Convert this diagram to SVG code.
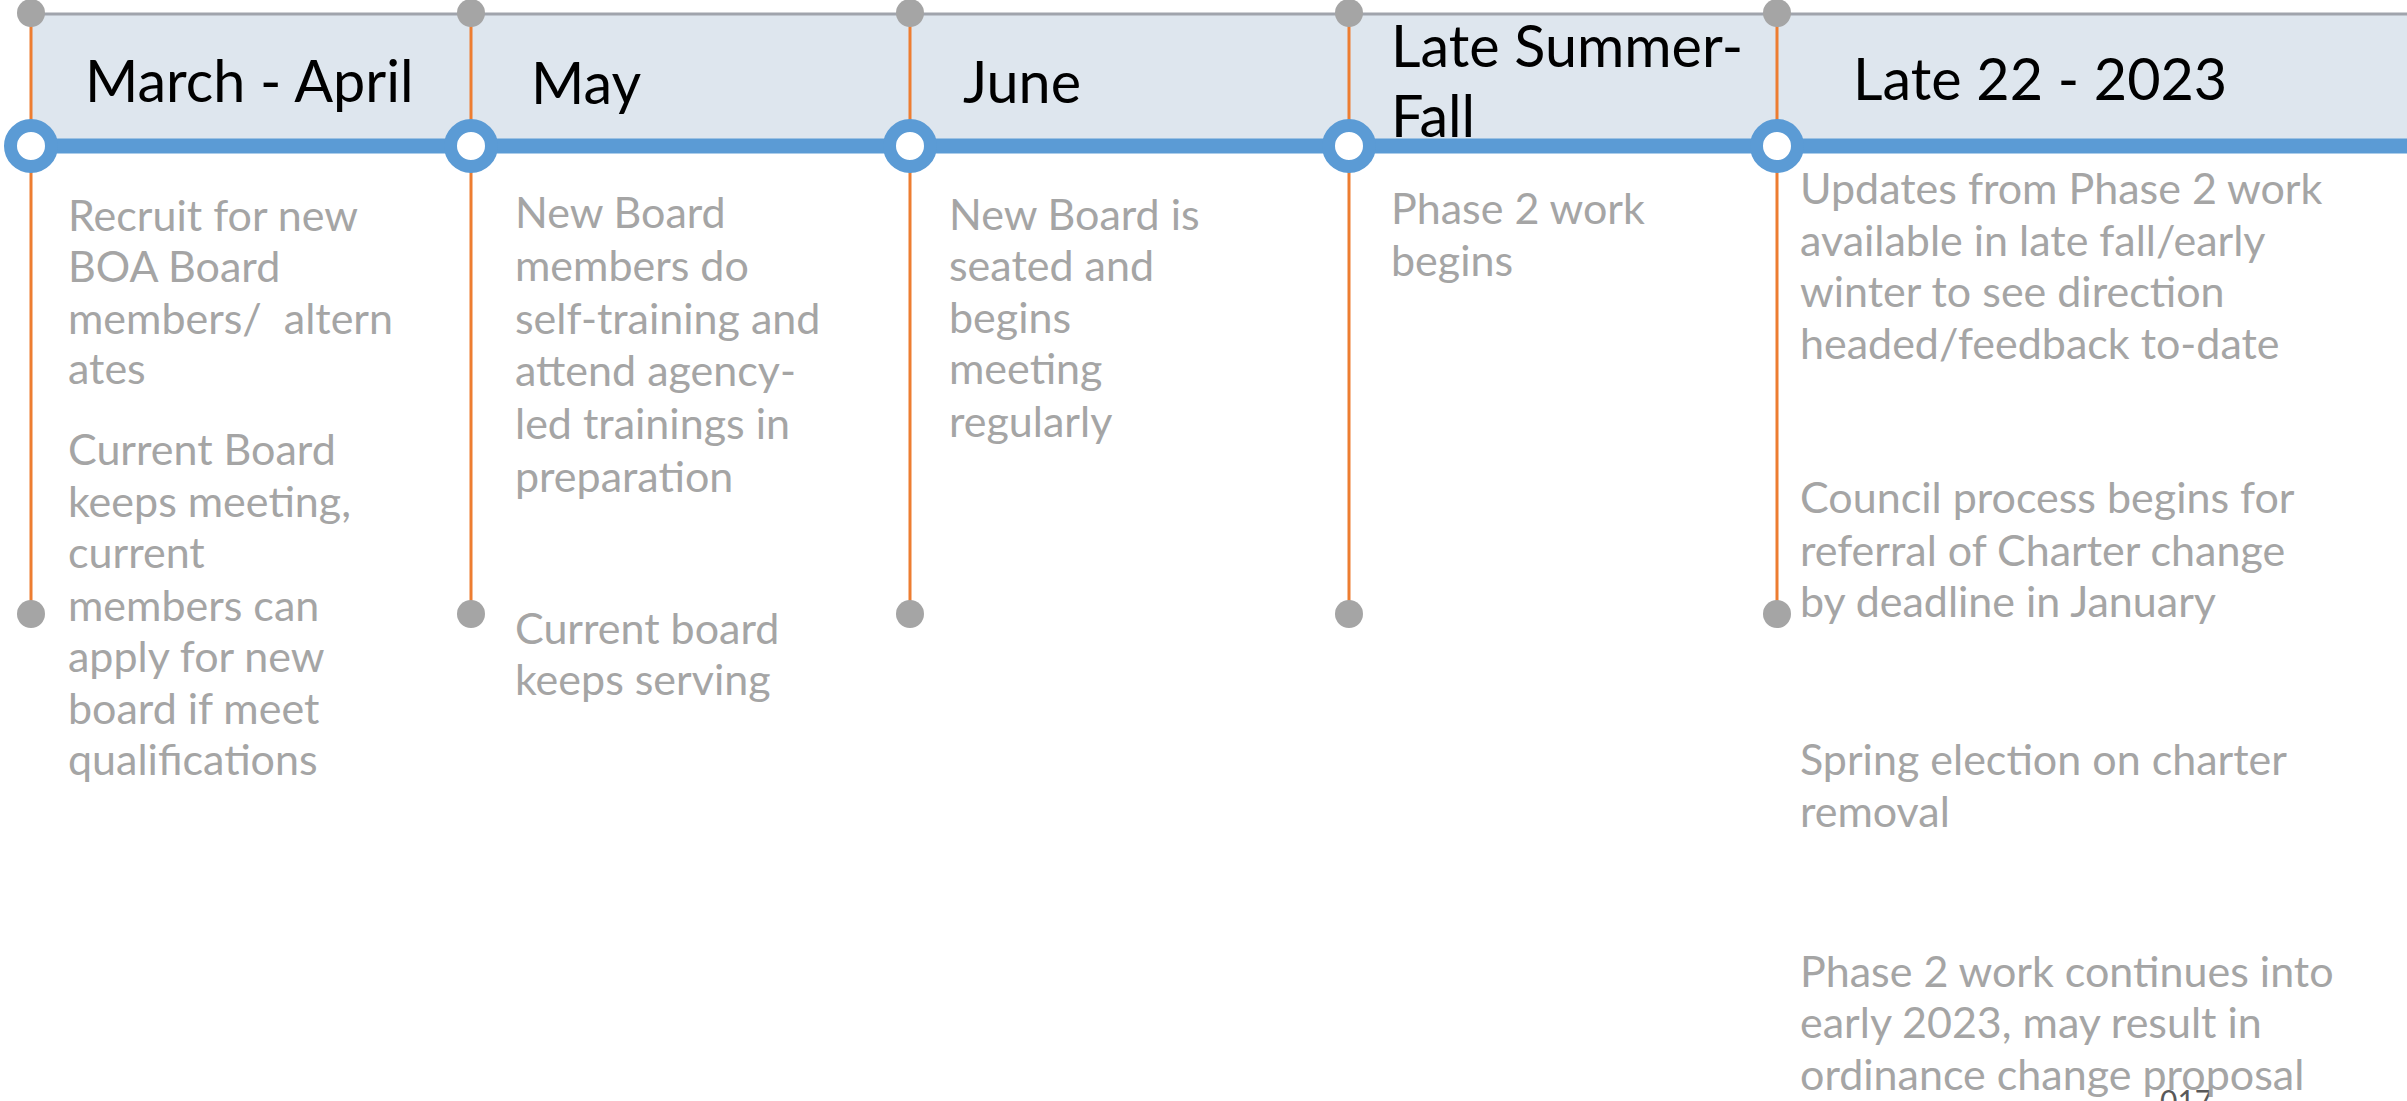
<svg xmlns="http://www.w3.org/2000/svg" width="2407" height="1101" viewBox="0 0 2407 1101">
<style>
.hdr{font-family:Lato,"Open Sans",sans-serif;font-size:57.5px;fill:#000}
.body{font-family:Lato,"Open Sans",sans-serif;font-size:43px;fill:#A5A5A5}
.pg{font-family:Lato,"Open Sans",sans-serif;font-size:30px;fill:#595959}
.vline{stroke:#ED7D31;stroke-width:3}
.dot{fill:#A5A5A5}
.ring{fill:#FFFFFF;stroke:#5B9BD5;stroke-width:13}
.pre{white-space:pre}
</style>
<rect width="2407" height="1101" fill="#FFFFFF"/>
<g id="timeline">
<rect x="31" y="14" width="2376" height="132" fill="#DEE6EE"/>
<line x1="31" y1="14" x2="2407" y2="14" stroke="#A0A4AC" stroke-width="3"/>
</g>
<g id="connectors">
<line class="vline" x1="31" y1="13" x2="31" y2="614"/>
<line class="vline" x1="471" y1="13" x2="471" y2="614"/>
<line class="vline" x1="910" y1="13" x2="910" y2="614"/>
<line class="vline" x1="1349" y1="13" x2="1349" y2="614"/>
<line class="vline" x1="1777" y1="13" x2="1777" y2="614"/>
<line x1="31" y1="146" x2="2407" y2="146" stroke="#5B9BD5" stroke-width="15"/>
</g>
<g id="node-march-april">
<circle class="dot" cx="31" cy="13" r="14"/>
<circle class="dot" cx="31" cy="614" r="14"/>
<circle class="ring" cx="31" cy="146" r="20.5"/>
<text class="hdr" x="85" y="102">March - April</text>
<text class="body" x="68"><tspan x="68" y="231">Recruit for new</tspan><tspan x="68" y="282">BOA Board</tspan><tspan class="pre" x="68" y="334" xml:space="preserve">members/  altern</tspan><tspan x="68" y="384">ates</tspan></text>
<text class="body" x="68"><tspan x="68" y="465">Current Board</tspan><tspan x="68" y="517">keeps meeting,</tspan><tspan x="68" y="568">current</tspan><tspan x="68" y="621">members can</tspan><tspan x="68" y="672">apply for new</tspan><tspan x="68" y="724">board if meet</tspan><tspan x="68" y="775">qualifications</tspan></text>
</g>
<g id="node-may">
<circle class="dot" cx="471" cy="13" r="14"/>
<circle class="dot" cx="471" cy="614" r="14"/>
<circle class="ring" cx="471" cy="146" r="20.5"/>
<text class="hdr" x="531" y="104">May</text>
<text class="body"><tspan x="515" y="228">New Board</tspan><tspan x="515" y="281">members do</tspan><tspan x="515" y="334">self-training and</tspan><tspan x="515" y="386">attend agency-</tspan><tspan x="515" y="439">led trainings in</tspan><tspan x="515" y="492">preparation</tspan></text>
<text class="body"><tspan x="515" y="644">Current board</tspan><tspan x="515" y="695">keeps serving</tspan></text>
</g>
<g id="node-june">
<circle class="dot" cx="910" cy="13" r="14"/>
<circle class="dot" cx="910" cy="614" r="14"/>
<circle class="ring" cx="910" cy="146" r="20.5"/>
<text class="hdr" x="963" y="103">June</text>
<text class="body"><tspan x="949" y="230">New Board is</tspan><tspan x="949" y="281">seated and</tspan><tspan x="949" y="333">begins</tspan><tspan x="949" y="384">meeting</tspan><tspan x="949" y="437">regularly</tspan></text>
</g>
<g id="node-late-summer-fall">
<circle class="dot" cx="1349" cy="13" r="14"/>
<circle class="dot" cx="1349" cy="614" r="14"/>
<circle class="ring" cx="1349" cy="146" r="20.5"/>
<text class="hdr"><tspan x="1391" y="67">Late Summer-</tspan><tspan x="1391" y="137">Fall</tspan></text>
<text class="body"><tspan x="1391" y="224">Phase 2 work</tspan><tspan x="1391" y="276">begins</tspan></text>
</g>
<g id="node-late22-2023">
<circle class="dot" cx="1777" cy="13" r="14"/>
<circle class="dot" cx="1777" cy="614" r="14"/>
<circle class="ring" cx="1777" cy="146" r="20.5"/>
<text class="hdr" x="1853" y="100">Late 22 - 2023</text>
<text class="body"><tspan x="1800" y="204">Updates from Phase 2 work</tspan><tspan x="1800" y="256">available in late fall/early</tspan><tspan x="1800" y="307">winter to see direction</tspan><tspan x="1800" y="359">headed/feedback to-date</tspan></text>
<text class="body"><tspan x="1800" y="513">Council process begins for</tspan><tspan x="1800" y="566">referral of Charter change</tspan><tspan x="1800" y="617">by deadline in January</tspan></text>
<text class="body"><tspan x="1800" y="775">Spring election on charter</tspan><tspan x="1800" y="827">removal</tspan></text>
<text class="pg" x="2160" y="1112">017</text>
<text class="body"><tspan x="1800" y="987">Phase 2 work continues into</tspan><tspan x="1800" y="1038">early 2023, may result in</tspan><tspan x="1800" y="1090">ordinance change proposal</tspan></text>
</g>
</svg>
